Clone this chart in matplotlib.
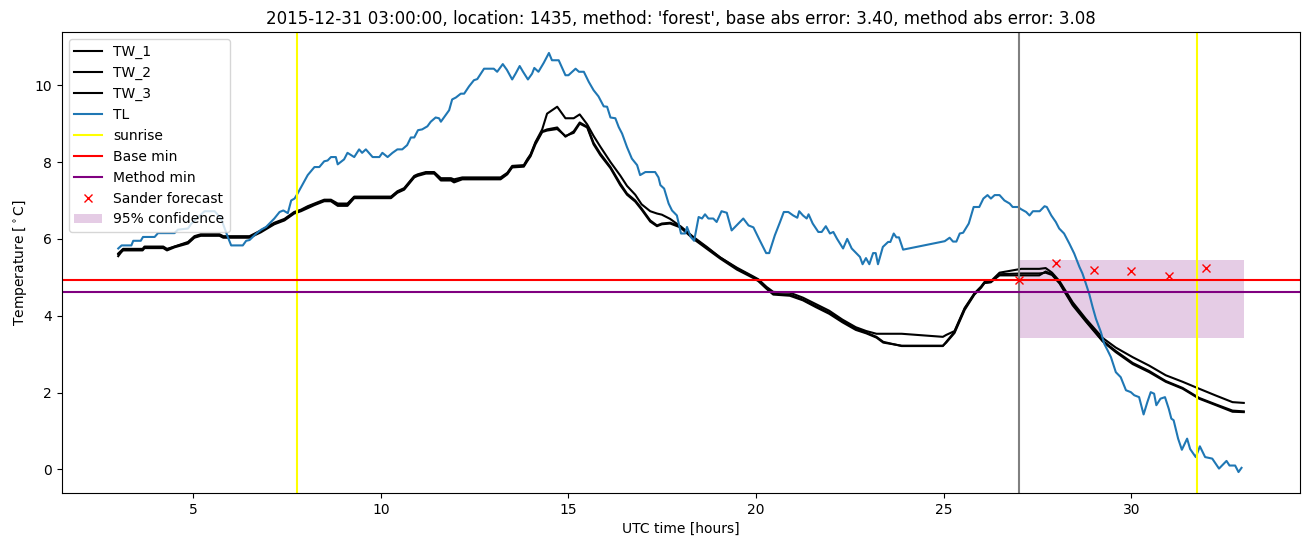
import numpy as np
import matplotlib
matplotlib.use("Agg")
import matplotlib.pyplot as plt

# air temperature (TL), hours since start of day
tl_t = [3.0, 3.09, 3.35, 3.4, 3.6, 3.66, 3.97, 4.06, 4.5, 4.59, 4.86, 4.95, 5.3, 5.57, 5.74, 5.92,
        6.01, 6.32, 6.41, 6.5, 6.68, 6.81, 6.94, 7.16, 7.3, 7.4, 7.52, 7.61, 7.7, 7.78, 8.05, 8.23,
        8.36, 8.49, 8.58, 8.67, 8.8, 8.85, 9.02, 9.11, 9.29, 9.42, 9.5, 9.6, 9.78, 9.96, 10.04, 10.18,
        10.31, 10.44, 10.57, 10.7, 10.8, 10.89, 10.99, 11.1, 11.24, 11.33, 11.46, 11.55, 11.6, 11.82,
        11.9, 12.0, 12.13, 12.22, 12.35, 12.48, 12.57, 12.75, 13.01, 13.1, 13.25, 13.36, 13.5, 13.59,
        13.7, 13.79, 13.92, 14.03, 14.09, 14.2, 14.34, 14.48, 14.56, 14.74, 14.92, 15.0, 15.19, 15.28,
        15.41, 15.54, 15.67, 15.8, 15.94, 16.03, 16.12, 16.25, 16.34, 16.43, 16.56, 16.69, 16.83, 16.91,
        17.05, 17.31, 17.4, 17.45, 17.55, 17.67, 17.76, 17.89, 18.0, 18.11, 18.16, 18.26, 18.35, 18.47,
        18.56, 18.64, 18.73, 18.86, 18.95, 19.08, 19.22, 19.35, 19.48, 19.66, 19.8, 19.93, 20.1, 20.27,
        20.35, 20.5, 20.64, 20.74, 20.86, 20.99, 21.1, 21.15, 21.25, 21.35, 21.4, 21.51, 21.66, 21.75,
        21.86, 21.97, 22.06, 22.16, 22.32, 22.43, 22.55, 22.77, 22.84, 22.93, 23.02, 23.12, 23.19, 23.25,
        23.38, 23.52, 23.58, 23.67, 23.74, 23.81, 23.92, 25.03, 25.16, 25.25, 25.34, 25.43, 25.52, 25.67,
        25.8, 25.95, 26.06, 26.17, 26.26, 26.36, 26.49, 26.62, 26.76, 26.84, 26.98, 27.07, 27.2, 27.29,
        27.38, 27.56, 27.69, 27.75, 27.87, 27.99, 28.08, 28.21, 28.35, 28.48, 28.62, 28.7, 28.79, 28.88,
        28.97, 29.06, 29.19, 29.28, 29.37, 29.46, 29.59, 29.72, 29.86, 29.99, 30.08, 30.21, 30.33, 30.43,
        30.52, 30.61, 30.67, 30.78, 30.9, 31.0, 31.07, 31.13, 31.25, 31.35, 31.49, 31.57, 31.72, 31.83,
        31.97, 32.16, 32.34, 32.54, 32.62, 32.77, 32.86, 32.94]
tl_v = [5.75, 5.83, 5.83, 5.95, 5.95, 6.05, 6.05, 6.15, 6.15, 6.24, 6.27, 6.4, 6.72, 6.72, 6.53, 6.05,
        5.83, 5.83, 5.95, 5.97, 6.14, 6.24, 6.31, 6.53, 6.7, 6.74, 6.67, 7.0, 7.05, 7.18, 7.66, 7.87,
        7.87, 8.02, 8.04, 8.13, 8.13, 7.94, 8.07, 8.24, 8.13, 8.33, 8.24, 8.33, 8.13, 8.13, 8.24, 8.13,
        8.24, 8.33, 8.33, 8.44, 8.64, 8.64, 8.83, 8.85, 8.93, 9.05, 9.16, 9.14, 9.05, 9.35,
        9.63, 9.68, 9.78, 9.78, 9.97, 10.13, 10.16, 10.43, 10.43, 10.35, 10.55, 10.4, 10.15, 10.3,
        10.5, 10.35, 10.15, 10.3, 10.45, 10.35, 10.58, 10.84, 10.65, 10.65, 10.26, 10.26, 10.43, 10.35,
        10.35, 10.09, 9.87, 9.71, 9.45, 9.44, 9.16, 9.14, 8.91, 8.74, 8.39, 8.09, 7.92, 7.66,
        7.74, 7.74, 7.6, 7.4, 7.31, 6.92, 6.74, 6.61, 6.14, 6.14, 6.31, 6.05, 5.95, 6.57,
        6.53, 6.64, 6.53, 6.53, 6.44, 6.72, 6.68, 6.22, 6.35, 6.53, 6.35, 6.3, 5.96, 5.63,
        5.63, 6.09, 6.44, 6.7, 6.7, 6.61, 6.55, 6.72, 6.61, 6.53, 6.64, 6.4, 6.18, 6.18,
        6.33, 6.14, 6.18, 6.0, 5.75, 6.0, 5.75, 5.53, 5.34, 5.5, 5.34, 5.63, 5.63, 5.34,
        5.79, 5.92, 5.92, 6.14, 6.04, 6.04, 5.72, 5.94, 6.03, 5.93, 5.93, 6.14, 6.16, 6.4,
        6.83, 6.83, 7.05, 7.14, 7.05, 7.14, 7.14, 7.0, 6.92, 6.83, 6.83, 6.77, 6.7, 6.61,
        6.72, 6.72, 6.85, 6.83, 6.61, 6.44, 6.27, 6.14, 5.88, 5.62, 5.27, 5.1, 4.84, 4.57,
        4.23, 3.92, 3.58, 3.27, 3.1, 2.92, 2.53, 2.4, 2.06, 2.01, 1.93, 1.88, 1.43, 1.75,
        2.01, 1.97, 1.67, 1.84, 1.88, 1.58, 1.32, 1.28, 0.8, 0.51, 0.8, 0.53, 0.32, 0.6,
        0.32, 0.28, 0.02, 0.22, 0.1, 0.1, -0.07, 0.04]

# road surface temperatures (TW_1..3) on a shared time grid
tw_t = [3.0, 3.13, 3.65, 3.7, 4.2, 4.3, 4.5, 4.86, 5.03, 5.2, 5.7, 5.8, 6.5, 6.8, 7.16, 7.43,
        7.69, 7.87, 8.05, 8.23, 8.49, 8.67, 8.85, 9.11, 9.29, 10.27, 10.44, 10.62, 10.89, 10.98, 11.2, 11.42,
        11.6, 11.87, 11.95, 12.17, 13.19, 13.37, 13.5, 13.81, 13.9, 13.99, 14.12, 14.3, 14.43, 14.7,
        14.92, 15.14, 15.3, 15.5, 15.67, 15.85, 16.12, 16.38, 16.56, 16.78, 16.95, 17.18, 17.36, 17.49,
        17.71, 17.98, 18.33, 18.69, 19.04, 19.49, 19.93, 20.06, 20.28, 20.46, 20.9, 21.25, 21.6, 21.95,
        22.3, 22.66, 22.94, 23.21, 23.39, 23.88, 24.98, 25.07, 25.29, 25.56, 25.82, 26.0, 26.09, 26.26,
        26.49, 27.07, 27.55, 27.72, 27.89, 28.09, 28.44, 28.79, 29.24, 29.59, 30.04, 30.48, 30.92, 31.37,
        31.81, 32.26, 32.7, 33.0]
tw1_v = [5.62, 5.74, 5.74, 5.8, 5.8, 5.74, 5.8, 5.92, 6.07, 6.12, 6.12, 6.07, 6.07, 6.22, 6.42, 6.52,
         6.7, 6.76, 6.85, 6.92, 7.02, 7.02, 6.92, 6.92, 7.1, 7.1, 7.24, 7.32, 7.64, 7.68, 7.74, 7.74,
         7.58, 7.58, 7.55, 7.6, 7.6, 7.72, 7.9, 7.92, 8.07, 8.2, 8.52, 8.85, 9.26, 9.44,
         9.14, 9.14, 9.24, 8.98, 8.68, 8.4, 8.0, 7.65, 7.38, 7.15, 6.9, 6.72, 6.66, 6.63,
         6.52, 6.33, 6.05, 5.79, 5.52, 5.25, 5.02, 4.95, 4.75, 4.62, 4.6, 4.47, 4.3, 4.13,
         3.9, 3.7, 3.6, 3.53, 3.53, 3.53, 3.45, 3.5, 3.6, 4.2, 4.58, 4.76, 4.88, 4.9,
         5.12, 5.22, 5.22, 5.24, 5.12, 4.9, 4.35, 3.92, 3.42, 3.17, 2.92, 2.7, 2.45, 2.28,
         2.1, 1.92, 1.75, 1.73]
tw2_v = [5.55, 5.72, 5.72, 5.78, 5.78, 5.72, 5.8, 5.9, 6.05, 6.1, 6.1, 6.05, 6.05, 6.2, 6.4, 6.5,
         6.68, 6.74, 6.83, 6.9, 7.0, 7.0, 6.88, 6.9, 7.09, 7.09, 7.22, 7.3, 7.62, 7.66, 7.72, 7.72,
         7.55, 7.55, 7.5, 7.58, 7.58, 7.7, 7.88, 7.9, 8.05, 8.18, 8.5, 8.8, 8.85, 8.9,
         8.66, 8.8, 9.03, 8.92, 8.5, 8.22, 7.87, 7.44, 7.18, 7.0, 6.79, 6.48, 6.35, 6.4,
         6.42, 6.33, 6.03, 5.77, 5.52, 5.23, 5.0, 4.93, 4.72, 4.57, 4.55, 4.42, 4.25, 4.08,
         3.86, 3.66, 3.56, 3.45, 3.32, 3.21, 3.21, 3.32, 3.58, 4.18, 4.57, 4.75, 4.86, 4.88,
         5.05, 5.05, 5.05, 5.15, 5.08, 4.86, 4.3, 3.87, 3.35, 3.08, 2.77, 2.56, 2.3, 2.12,
         1.86, 1.69, 1.53, 1.51]
tw3_v = [5.6, 5.7, 5.7, 5.76, 5.76, 5.7, 5.78, 5.88, 6.03, 6.08, 6.08, 6.03, 6.03, 6.17, 6.38, 6.48,
         6.66, 6.72, 6.8, 6.88, 6.98, 6.98, 6.86, 6.86, 7.06, 7.06, 7.2, 7.28, 7.6, 7.64, 7.7, 7.7,
         7.52, 7.52, 7.47, 7.55, 7.55, 7.68, 7.86, 7.88, 8.02, 8.15, 8.46, 8.78, 8.82, 8.86,
         8.68, 8.76, 9.0, 8.9, 8.46, 8.18, 7.84, 7.4, 7.15, 6.97, 6.76, 6.45, 6.33, 6.38,
         6.4, 6.3, 6.0, 5.74, 5.49, 5.2, 4.98, 4.9, 4.7, 4.55, 4.52, 4.4, 4.22, 4.05,
         3.83, 3.63, 3.54, 3.43, 3.3, 3.22, 3.22, 3.3, 3.55, 4.15, 4.55, 4.73, 4.85, 4.87,
         5.08, 5.1, 5.1, 5.12, 5.06, 4.84, 4.27, 3.85, 3.33, 3.05, 2.74, 2.53, 2.28, 2.1,
         1.84, 1.67, 1.5, 1.49]

sunrise = [7.77, 31.76]
forecast_start = 27.0
base_min = 4.92
method_min = 4.61
sander_t = [27, 28, 29, 30, 31, 32]
sander_v = [4.92, 5.36, 5.2, 5.16, 5.03, 5.25]
conf_lo, conf_hi = 3.42, 5.44
conf_end = 33.0

fig, ax = plt.subplots(figsize=(13.1, 5.47), dpi=100)
fig.subplots_adjust(left=0.0473, right=0.9924, top=0.9415, bottom=0.0987)

ax.plot(tw_t, tw1_v, color="black", label="TW_1")
ax.plot(tw_t, tw2_v, color="black", label="TW_2")
ax.plot(tw_t, tw3_v, color="black", label="TW_3")
ax.plot(tl_t, tl_v, color="C0", label="TL")
for i, s in enumerate(sunrise):
    ax.axvline(s, color="yellow", label="sunrise" if i == 0 else None)
ax.axvline(forecast_start, color="grey")
ax.axhline(base_min, color="red", label="Base min")
ax.axhline(method_min, color="purple", label="Method min")
ax.plot(sander_t, sander_v, "x", color="red", linestyle="none", label="Sander forecast")
ax.fill_between([forecast_start, conf_end], conf_lo, conf_hi, color="purple", alpha=0.2,
                linewidth=0, label="95% confidence")

ax.set_xlabel("UTC time [hours]")
ax.set_ylabel(r"Temperature [$^\circ$C]")
ax.set_title("2015-12-31 03:00:00, location: 1435, method: 'forest', "
             "base abs error: 3.40, method abs error: 3.08")
ax.legend(loc="upper left")

fig.savefig("out.png", dpi=100)
